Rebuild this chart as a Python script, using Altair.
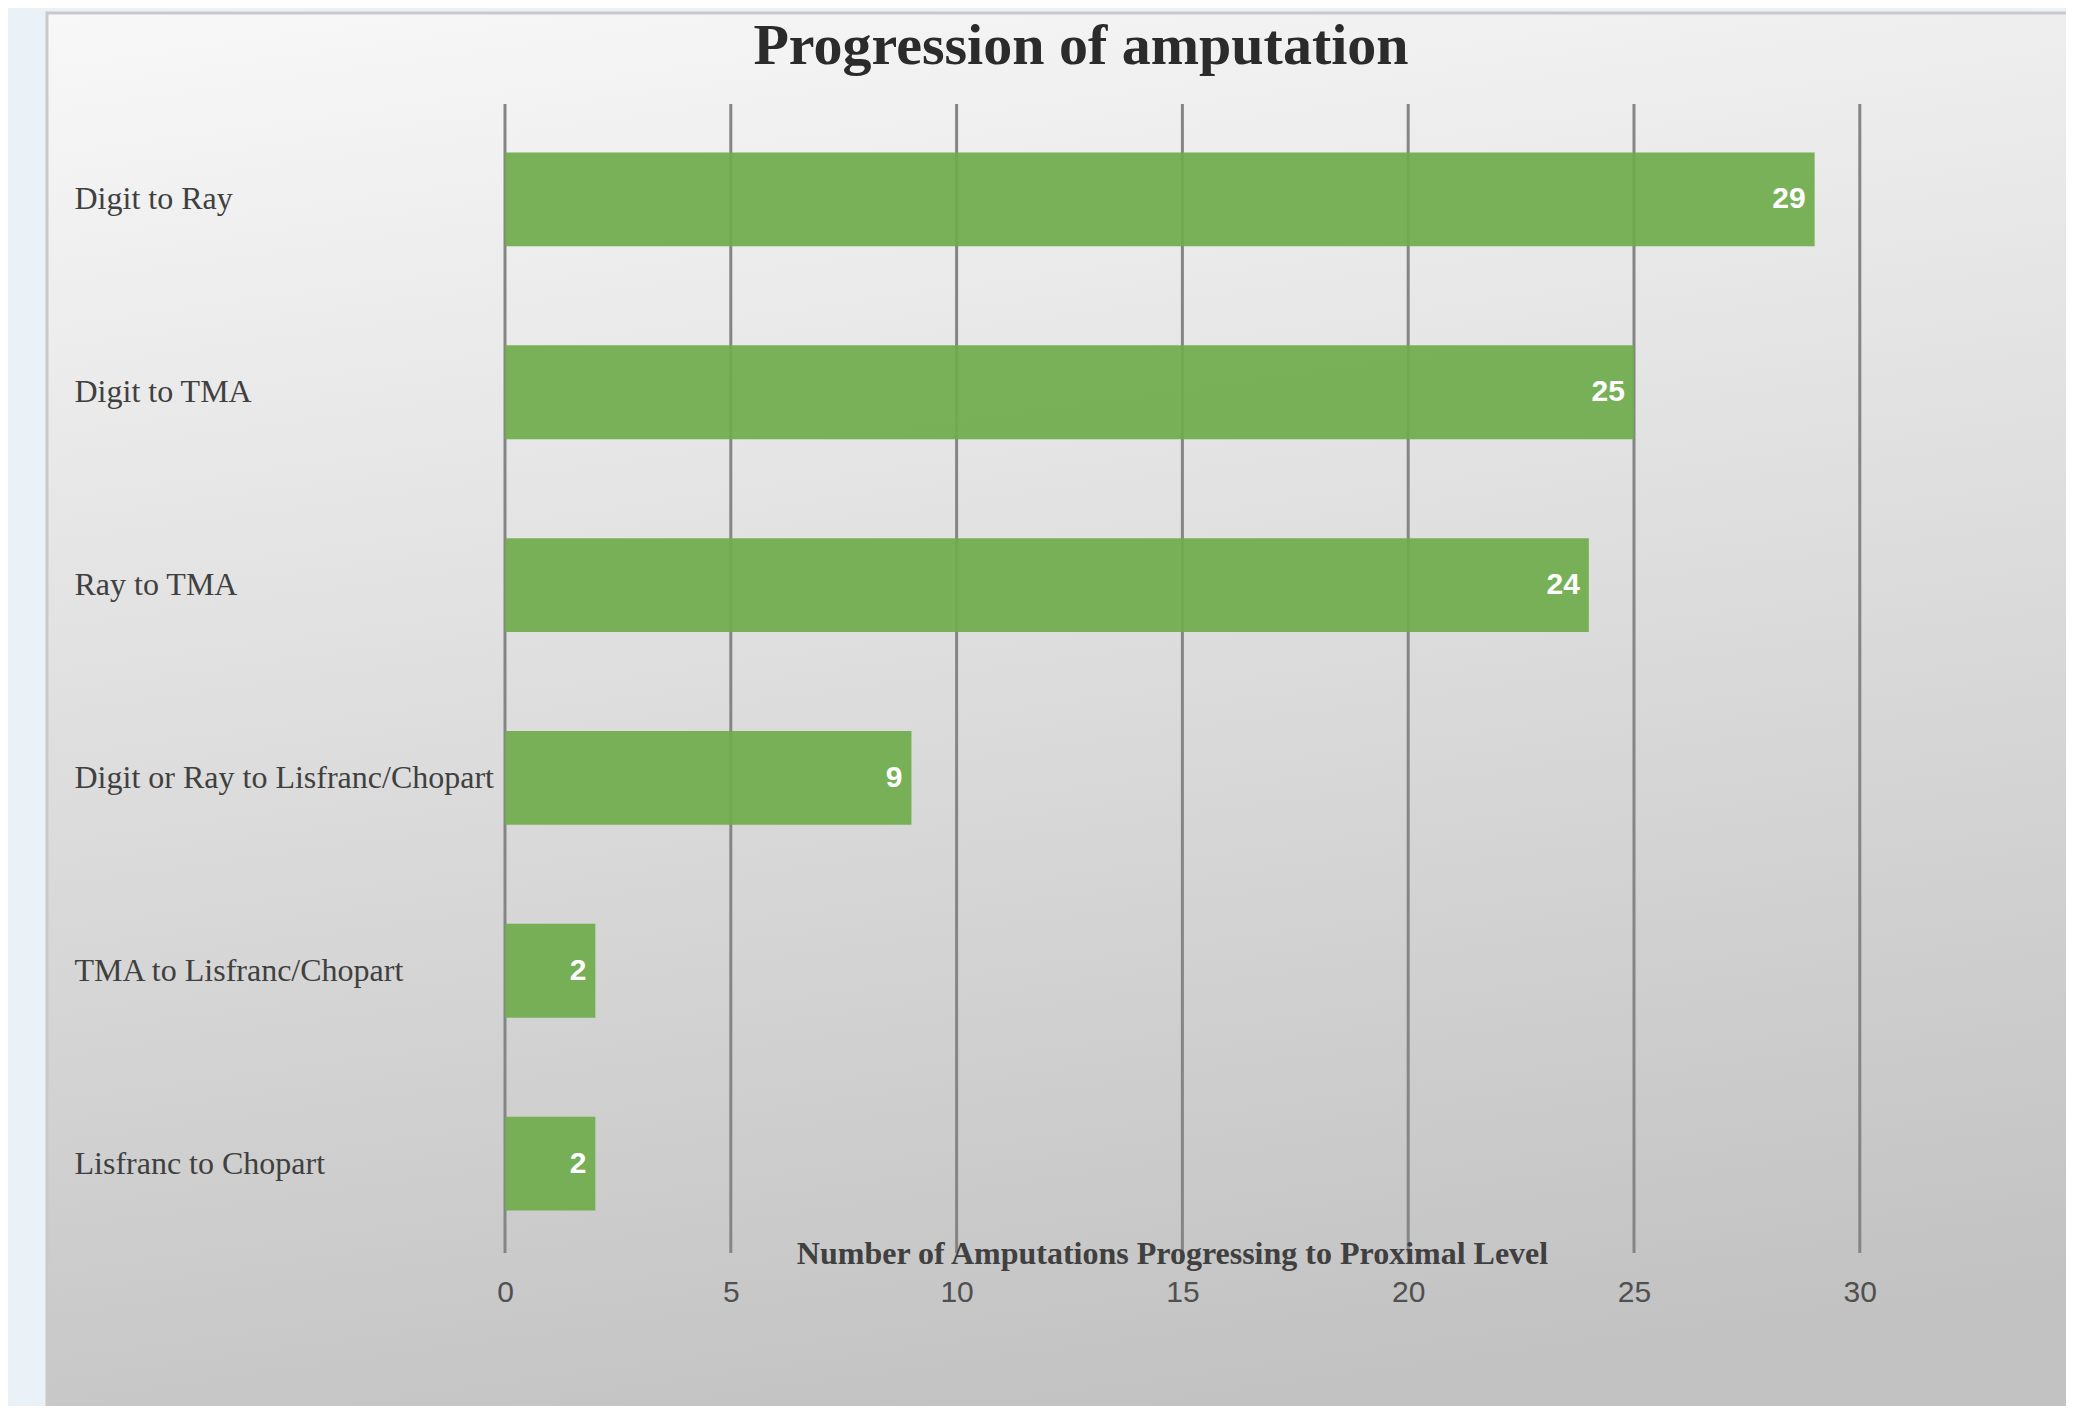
import altair as alt
import pandas as pd

chart_title = "Progression of amputation"
categories = [
    "Digit to Ray",
    "Digit to TMA",
    "Ray to TMA",
    "Digit or Ray to Lisfranc/Chopart",
    "TMA to Lisfranc/Chopart",
    "Lisfranc to Chopart",
]
counts = [29, 25, 24, 9, 2, 2]
x_ticks = [0, 5, 10, 15, 20, 25, 30]

df = pd.DataFrame({"level": categories, "count": counts})
ticks_df = pd.DataFrame({"t": x_ticks})
title_df = pd.DataFrame({"title": [chart_title]})

W = 1558
H = 1157
XMAX = 34.5

narrow = "Liberation Sans Narrow, Arial Narrow, Liberation Sans, Arial"
serif = "Liberation Serif, Times New Roman, serif"

x_scale = alt.Scale(domain=[0, XMAX], nice=False, zero=True)
x_axis = alt.Axis(
    values=x_ticks,
    grid=False,
    domain=False,
    ticks=False,
    tickSize=0,
    zindex=1,
    labelFlush=False,
    labelFont=narrow,
    labelFontSize=30,
    labelColor="#505050",
    labelBaseline="middle",
    labelPadding=32,
    titleFont=serif,
    titleFontSize=32,
    titleFontWeight="bold",
    titleColor="#404040",
    titleX=667,
    titleY=-7,
    titleAlign="center",
    titleBaseline="middle",
    titleAnchor="start",
)
x_title = "Number of Amputations Progressing to Proximal Level"

y_enc = alt.Y(
    "level:N",
    sort=categories,
    scale=alt.Scale(paddingInner=0.513, paddingOuter=0.2565),
    axis=alt.Axis(
        title=None,
        domain=False,
        ticks=False,
        zindex=1,
        labelAlign="left",
        labelPadding=431,
        labelLimit=600,
        labelFont=serif,
        labelFontSize=32,
        labelColor="#404040",
    ),
)

bg = alt.Chart(alt.Data(values=[{"k": 1}])).mark_rect(
    fill=alt.Gradient(
        gradient="linear",
        stops=[
            alt.GradientStop(color="#f8f8f8", offset=0),
            alt.GradientStop(color="#c2c2c2", offset=1),
        ],
        x1=0, y1=0, x2=0.2, y2=1,
    ),
    stroke="#c9c9c9",
    strokeWidth=3,
    clip=False,
).encode(
    x=alt.value(-458), x2=alt.value(1700),
    y=alt.value(-90), y2=alt.value(1400),
)

title_mark = alt.Chart(title_df).mark_text(
    align="center", baseline="alphabetic",
    font=serif, fontSize=58, fontWeight="bold", color="#2b2b2b",
).encode(
    x=alt.value(576), y=alt.value(-39),
    text="title:N",
)

rules = alt.Chart(ticks_df).mark_rule(color="#858585", strokeWidth=3).encode(
    x=alt.X("t:Q", scale=x_scale, axis=x_axis, title=x_title),
    y=alt.value(1),
    y2=alt.value(H - 7),
)

bars = alt.Chart(df).mark_bar(color="#70ac4c", opacity=0.93).encode(
    x=alt.X("count:Q", scale=x_scale, axis=x_axis, title=x_title),
    y=y_enc,
)

labels = alt.Chart(df).mark_text(
    align="right", baseline="middle", dx=-9, color="white",
    font=narrow, fontSize=30, fontWeight="bold",
).encode(
    x=alt.X("count:Q", scale=x_scale),
    y=alt.Y("level:N", sort=categories),
    text="count:Q",
)

chart = alt.layer(bg, title_mark, rules, bars, labels).properties(
    width=W,
    height=H,
    autosize=alt.AutoSizeParams(type="none"),
    padding={"left": 497, "top": 95, "right": 3, "bottom": 146},
).configure(
    background="#eaf2f8",
).configure_view(stroke=None, fill=None)

chart.save("out.html", embed_options={"renderer": "svg", "actions": False})
